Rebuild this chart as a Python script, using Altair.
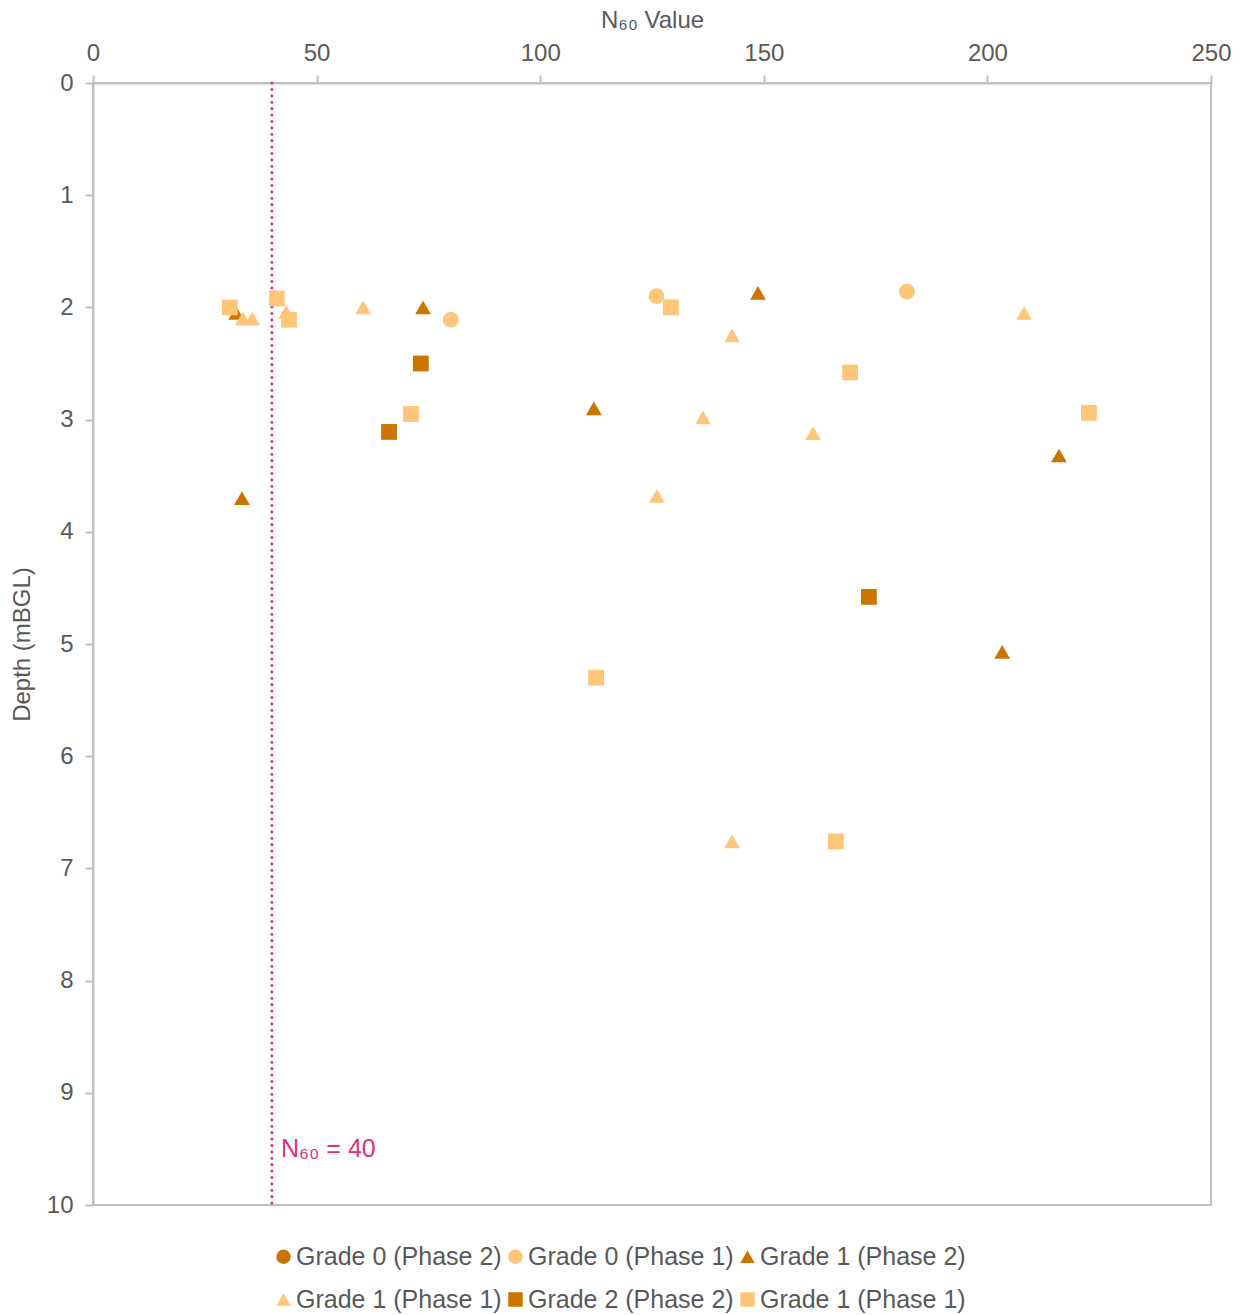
import altair as alt
import pandas as pd

# Series names (keys) and the labels shown in the legend
series_keys = ["g0p2", "g0p1", "g1p2", "g1p1t", "g2p2", "g1p1s"]
series_labels = ["Grade 0 (Phase 2)", "Grade 0 (Phase 1)", "Grade 1 (Phase 2)",
                 "Grade 1 (Phase 1)", "Grade 2 (Phase 2)", "Grade 1 (Phase 1)"]
series_colors = ["#CC7400", "#FFC67A", "#CC7400", "#FFC67A", "#CC7400", "#FFC67A"]
series_shapes = ["circle", "circle", "triangle-up", "triangle-up", "square", "square"]

# N60 values and depths (mBGL) per series
g0p1_n60 = [80.0, 126.0, 182.0]
g0p1_depth = [2.11, 1.90, 1.86]

g1p2_n60 = [32.0, 73.8, 148.7, 112.0, 33.3, 216.0, 203.3]
g1p2_depth = [2.05, 2.00, 1.87, 2.90, 3.70, 3.32, 5.07]

g1p1t_n60 = [33.5, 35.6, 43.2, 60.4, 142.9, 136.4, 161.0, 126.1, 208.2, 142.9]
g1p1t_depth = [2.10, 2.10, 2.04, 2.00, 2.25, 2.98, 3.12, 3.68, 2.05, 6.76]

g2p2_n60 = [73.3, 66.2, 173.5]
g2p2_depth = [2.50, 3.11, 4.58]

g1p1s_n60 = [30.6, 41.1, 43.8, 129.2, 169.3, 71.1, 222.7, 112.5, 166.1]
g1p1s_depth = [2.00, 1.92, 2.11, 2.00, 2.58, 2.95, 2.94, 5.30, 6.76]

threshold = 40

rows = []
for key, xs, ys in [("g0p1", g0p1_n60, g0p1_depth),
                    ("g1p2", g1p2_n60, g1p2_depth),
                    ("g1p1t", g1p1t_n60, g1p1t_depth),
                    ("g2p2", g2p2_n60, g2p2_depth),
                    ("g1p1s", g1p1s_n60, g1p1s_depth)]:
    for x, y in zip(xs, ys):
        rows.append({"series": key, "n60": x, "depth": y})
df = pd.DataFrame(rows)

label_expr = " : ".join(
    [f"datum.value == '{k}' ? '{l}'" for k, l in zip(series_keys, series_labels)]
) + " : datum.value"

font = "Liberation Sans"
grey = "#595959"
line_grey = "#BFBFBF"

x_scale = alt.Scale(domain=[0, 250], nice=False, zero=True)
y_scale = alt.Scale(domain=[0, 10], reverse=True, nice=False)


def series_legend(**extra):
    return alt.Legend(title=None, orient="none", legendX=178, legendY=1161,
                      columns=3, direction="horizontal", labelExpr=label_expr,
                      symbolSize=210, labelFontSize=25, labelFont=font,
                      labelColor=grey, labelOffset=0, labelLimit=0,
                      columnPadding=1, rowPadding=17, **extra)


points = alt.Chart(df).mark_point(filled=True, opacity=1, size=250).encode(
    x=alt.X("n60:Q", scale=x_scale,
            axis=alt.Axis(orient="top", values=[0, 50, 100, 150, 200, 250],
                          format="d", title="N₆₀ Value", titlePadding=9,
                          labelPadding=10, labelFlush=False)),
    y=alt.Y("depth:Q", scale=y_scale,
            axis=alt.Axis(values=list(range(0, 11)), format="d",
                          title="Depth (mBGL)", titlePadding=12, labelPadding=12,
                          labelFlush=False)),
    color=alt.Color("series:N",
                    scale=alt.Scale(domain=series_keys, range=series_colors),
                    legend=series_legend(symbolType="circle")),
    shape=alt.Shape("series:N",
                    scale=alt.Scale(domain=series_keys, range=series_shapes),
                    legend=series_legend()),
)

thr_df = pd.DataFrame({"n60": [threshold], "label": ["N₆₀ = 40"], "depth": [9.5]})

rule = alt.Chart(thr_df).mark_rule(
    color="#E0307F", strokeWidth=3, strokeDash=[0.1, 6.3], strokeCap="round"
).encode(x=alt.X("n60:Q", scale=x_scale))

rule_label = alt.Chart(thr_df).mark_text(
    align="left", baseline="middle", dx=9, fontSize=25, font=font, color="#E0307F"
).encode(x=alt.X("n60:Q", scale=x_scale),
         y=alt.Y("depth:Q", scale=y_scale),
         text="label:N")

chart = alt.layer(rule, points, rule_label).properties(
    width=1118, height=1122,
    autosize=alt.AutoSizeParams(type="none"),
    padding={"left": 93, "top": 83, "right": 34, "bottom": 110},
).configure_view(
    stroke=line_grey, strokeWidth=2
).configure_axis(
    labelFont=font, labelFontSize=24, labelColor=grey,
    titleFont=font, titleFontSize=24, titleColor=grey, titleFontWeight="normal",
    domainColor=line_grey, domainWidth=2, tickColor=line_grey, tickWidth=2,
    tickSize=8, grid=False
)

chart.save("out.html", embed_options={"renderer": "svg", "actions": False})
